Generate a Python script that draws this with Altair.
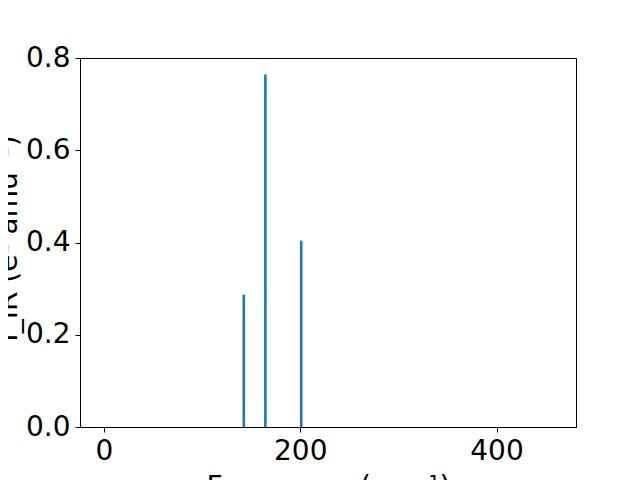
import altair as alt
import pandas as pd

freqs = [142.5, 164.5, 201.0]
intensities = [0.287, 0.764, 0.404]
x_ticks = [0, 200, 400]
y_ticks = [0.0, 0.2, 0.4, 0.6, 0.8]

df = pd.DataFrame({"freq": freqs, "inten": intensities})

chart = alt.Chart(df).mark_rule(color="#1f77b4", strokeWidth=2.6).encode(
    x=alt.X(
        "freq:Q",
        scale=alt.Scale(domain=[-24.4, 481], nice=False, zero=False),
        axis=alt.Axis(
            values=x_ticks,
            format="d",
            title="Frequency (cm⁻¹)",
            titleY=68,
            titleBaseline="alphabetic",
            labelFlush=False,
        ),
    ),
    y=alt.Y(
        "inten:Q",
        scale=alt.Scale(domain=[0, 0.8], nice=False),
        axis=alt.Axis(
            values=y_ticks,
            format=".1f",
            title="I_IR (e² amu⁻¹)",
            titleX=-64,
            titleY=180,
            titleAngle=-90,
            titleAlign="center",
            titleBaseline="alphabetic",
            labelFlush=False,
        ),
    ),
    y2=alt.datum(0),
).properties(
    width=496,
    height=369,
    background="white",
    autosize=alt.AutoSizeParams(type="none"),
    padding={"left": 72, "top": 50, "right": 56, "bottom": 70},
).configure_view(
    stroke="black", strokeWidth=1
).configure_axis(
    grid=False,
    domainColor="black",
    domainWidth=1,
    tickColor="black",
    tickSize=5,
    tickWidth=1,
    labelPadding=5,
    labelFont="DejaVu Sans",
    labelFontSize=28,
    labelColor="black",
    titleFont="DejaVu Sans",
    titleFontSize=28,
    titleFontWeight="normal",
    titleColor="black",
)

chart.save("out.html", embed_options={"renderer": "svg", "actions": False})
